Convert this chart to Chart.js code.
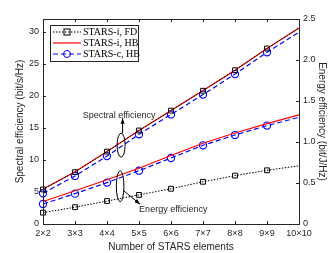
<!DOCTYPE html>
<html>
<head>
<meta charset="utf-8">
<script src="https://cdn.jsdelivr.net/npm/chart.js@4.4.1/dist/chart.umd.min.js"></script>
<style>
  html, body { margin: 0; padding: 0; background: #fff; }
  #wrap { width: 332px; height: 253px; }
</style>
</head>
<body>
<div id="wrap"><canvas id="chart-1" width="332" height="253"></canvas></div>
<script>
// number of STARS elements
const labels = ['2×2', '3×3', '4×4', '5×5', '6×6', '7×7', '8×8', '9×9', '10×10'];

// spectral efficiency (bit/s/Hz), left axis
const seFD  = [5.4, 8.1, 11.3, 14.6, 17.7, 20.8, 24.0, 27.4, 30.6];
const seHB  = [5.45, 8.15, 11.3, 14.6, 17.7, 20.85, 24.0, 27.4, 30.6];
const seCHB = [4.8, 7.5, 10.6, 14.0, 17.1, 20.2, 23.4, 26.8, 29.95];

// energy efficiency (bit/J/Hz), right axis
const eeFD  = [0.138, 0.205, 0.28, 0.355, 0.43, 0.515, 0.59, 0.655, 0.71];
const eeHB  = [0.275, 0.405, 0.54, 0.68, 0.835, 0.985, 1.11, 1.225, 1.33];
const eeCHB = [0.244, 0.37, 0.505, 0.65, 0.805, 0.96, 1.085, 1.2, 1.30];

const leftTicks = [0, 5, 10, 15, 20, 25, 30];

const axisCol = '#262626';
const tickFont = { family: 'Liberation Sans', size: 9 };
// markers at every point but the last one
const mk = r => labels.map((l, i) => i < labels.length - 1 ? r : 0);

function fdSet(data, axis) {
  return {
    data: data, yAxisID: axis,
    borderColor: '#000', borderWidth: 1, borderDash: [1.5, 1.5],
    pointStyle: 'rect', pointRadius: mk(3.4), pointBorderColor: '#000',
    pointBorderWidth: 1, pointBackgroundColor: 'rgba(0,0,0,0)', tension: 0
  };
}
function hbSet(data, axis) {
  return {
    data: data, yAxisID: axis,
    borderColor: '#ff0000', borderWidth: 1.2, pointRadius: 0, tension: 0
  };
}
function chbSet(data, axis) {
  return {
    data: data, yAxisID: axis,
    borderColor: '#0000ff', borderWidth: 1.2, borderDash: [5, 3],
    pointStyle: 'circle', pointRadius: mk(3.6), pointBorderColor: '#0000ff',
    pointBorderWidth: 1.1, pointBackgroundColor: 'rgba(0,0,0,0)', tension: 0
  };
}

// box, inward ticks, legend and the two annotations
const matlabLook = {
  id: 'matlabLook',
  afterDraw(chart) {
    const c = chart.ctx;
    const a = chart.chartArea;
    const x = chart.scales.x, y = chart.scales.y, y1 = chart.scales.y1;
    c.save();
    c.strokeStyle = axisCol;
    c.lineWidth = 1;
    c.strokeRect(Math.round(a.left) + 0.5, Math.round(a.top) + 0.5,
      Math.round(a.right - a.left), Math.round(a.bottom - a.top));
    c.beginPath();
    labels.forEach((l, i) => {
      const px = Math.round(x.getPixelForValue(i)) + 0.5;
      c.moveTo(px, a.bottom); c.lineTo(px, a.bottom - 3);
      c.moveTo(px, a.top); c.lineTo(px, a.top + 3);
    });
    leftTicks.forEach(v => {
      const py = Math.round(y.getPixelForValue(v)) + 0.5;
      c.moveTo(a.left, py); c.lineTo(a.left + 3, py);
    });
    y1.ticks.forEach(t => {
      const py = Math.round(y1.getPixelForValue(t.value)) + 0.5;
      c.moveTo(a.right, py); c.lineTo(a.right - 3, py);
    });
    c.stroke();

    // legend
    const lx = 50, ly = 25, lw = 88, lh = 36;
    c.fillStyle = '#fff';
    c.fillRect(lx, ly, lw, lh);
    c.strokeRect(lx + 0.5, ly + 0.5, lw, lh);
    const rows = [
      { t: 'STARS-i, FD', col: '#000', dash: [1.5, 1.5], m: 'rect', w: 1 },
      { t: 'STARS-i, HB', col: '#ff0000', dash: [], m: null, w: 1.2 },
      { t: 'STARS-c, HB', col: '#0000ff', dash: [5, 3], m: 'circle', w: 1.2 }
    ];
    c.font = '10px "Liberation Serif"';
    c.textBaseline = 'middle';
    rows.forEach((r, i) => {
      const ry = ly + 7 + i * 11;
      c.strokeStyle = r.col;
      c.lineWidth = r.w;
      c.setLineDash(r.dash);
      c.beginPath(); c.moveTo(lx + 3, ry); c.lineTo(lx + 31, ry); c.stroke();
      c.setLineDash([]);
      c.lineWidth = 1;
      if (r.m === 'rect') c.strokeRect(lx + 14, ry - 3, 6, 6);
      if (r.m === 'circle') { c.beginPath(); c.arc(lx + 17, ry, 3.5, 0, Math.PI * 2); c.stroke(); }
      c.fillStyle = '#000';
      c.fillText(r.t, lx + 33, ry + 0.5);
    });

    // annotations
    c.strokeStyle = '#000';
    c.fillStyle = '#000';
    c.lineWidth = 1;
    const ex1 = x.getPixelForValue(0) + 2.44 * 32, ey1 = y.getPixelForValue(12.3);
    c.beginPath(); c.ellipse(ex1, ey1, 4, 12, 0, 0, Math.PI * 2); c.stroke();
    arrow(c, ex1 + 1.5, ey1 - 12, ex1 + 1.5, ey1 - 27);
    const ex2 = x.getPixelForValue(0) + 2.41 * 32, ey2 = y.getPixelForValue(5.9);
    c.beginPath(); c.ellipse(ex2, ey2, 3.8, 15.5, 0, 0, Math.PI * 2); c.stroke();
    arrow(c, ex2 + 3, ey2 + 4, ex2 + 20, ey2 + 18);
    c.font = '9px "Liberation Sans"';
    c.fillStyle = axisCol;
    c.textAlign = 'center';
    c.fillText('Spectral efficiency', ex1 - 2, ey1 - 30);
    c.textAlign = 'left';
    c.fillText('Energy efficiency', ex2 + 19, ey2 + 23);
    c.restore();
  }
};

function arrow(c, x0, y0, x1, y1) {
  const ang = Math.atan2(y1 - y0, x1 - x0);
  c.beginPath(); c.moveTo(x0, y0); c.lineTo(x1, y1); c.stroke();
  c.beginPath();
  c.moveTo(x1, y1);
  c.lineTo(x1 - 6 * Math.cos(ang - 0.35), y1 - 6 * Math.sin(ang - 0.35));
  c.lineTo(x1 - 6 * Math.cos(ang + 0.35), y1 - 6 * Math.sin(ang + 0.35));
  c.closePath(); c.fill();
}

const ctx = document.getElementById('chart-1');
new Chart(ctx, {
  type: 'line',
  data: {
    labels: labels,
    datasets: [
      fdSet(seFD, 'y'), hbSet(seHB, 'y'), chbSet(seCHB, 'y'),
      fdSet(eeFD, 'y1'), hbSet(eeHB, 'y1'), chbSet(eeCHB, 'y1')
    ]
  },
  options: {
    responsive: false,
    animation: false,
    layout: { padding: { top: 19, left: 0, right: 0, bottom: 0 } },
    plugins: { legend: { display: false }, tooltip: { enabled: false } },
    scales: {
      x: {
        type: 'category', offset: false,
        grid: { display: false, drawTicks: false }, border: { display: false },
        ticks: { font: tickFont, color: axisCol, padding: 4, maxRotation: 0, autoSkip: false },
        title: { display: true, text: 'Number of STARS elements', font: { family: 'Liberation Sans', size: 10 }, color: axisCol, padding: { top: 1, bottom: 0 } },
        afterFit: s => { s.height = 29; }
      },
      y: {
        position: 'left', min: 0, max: 32,
        grid: { display: false, drawTicks: false }, border: { display: false },
        ticks: { stepSize: 5, font: tickFont, color: axisCol, padding: 4 },
        afterBuildTicks: s => { s.ticks = leftTicks.map(v => ({ value: v })); },
        title: { display: true, text: 'Spectral efficiency (bit/s/Hz)', font: { family: 'Liberation Sans', size: 10 }, color: axisCol, padding: { top: 14, bottom: 0 } },
        afterFit: s => { s.width = 43; }
      },
      y1: {
        position: 'right', min: 0, max: 2.5,
        grid: { display: false, drawTicks: false }, border: { display: false },
        ticks: { stepSize: 0.5, font: tickFont, color: axisCol, padding: 4 },
        title: { display: true, text: 'Energy efficiency (bit/J/Hz)', font: { family: 'Liberation Sans', size: 10 }, color: axisCol, padding: { top: 4, bottom: 0 } },
        afterFit: s => { s.width = 33; }
      }
    }
  },
  plugins: [matlabLook]
});
</script>
</body>
</html>
